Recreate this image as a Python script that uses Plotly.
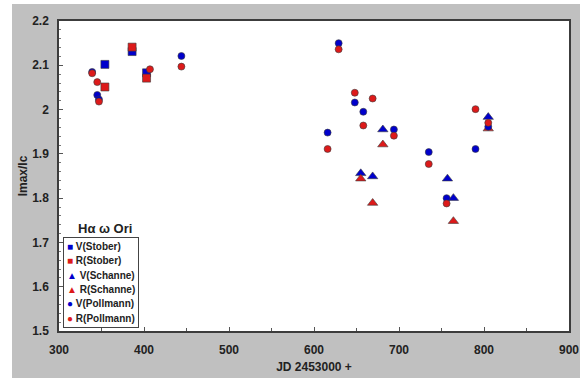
import plotly.graph_objects as go

# ---- data ----
v_stober_x = [354, 386, 403]
v_stober_y = [2.102, 2.131, 2.083]
r_stober_x = [354, 386, 403]
r_stober_y = [2.051, 2.141, 2.071]

v_schanne_x = [655, 669, 681, 757, 764, 805]
v_schanne_y = [1.856, 1.849, 1.955, 1.844, 1.800, 1.983]
r_schanne_x = [655, 669, 681, 764, 805]
r_schanne_y = [1.844, 1.789, 1.921, 1.748, 1.957]

v_pollmann_x = [339, 345, 347, 444, 616, 629, 648, 658, 694, 735, 756, 790, 805]
v_pollmann_y = [2.085, 2.033, 2.023, 2.121, 1.948, 2.150, 2.016, 1.995, 1.955, 1.904, 1.800, 1.911, 1.961]
r_pollmann_x = [339, 345, 347, 407, 444, 616, 629, 648, 658, 669, 694, 735, 756, 790, 805]
r_pollmann_y = [2.082, 2.062, 2.018, 2.091, 2.097, 1.911, 2.136, 2.038, 1.964, 2.025, 1.941, 1.877, 1.788, 2.001, 1.970]

x_tick_vals = [300, 400, 500, 600, 700, 800, 900]
y_tick_vals = [1.5, 1.6, 1.7, 1.8, 1.9, 2.0, 2.1, 2.2]

BLUE = "#0000cc"
RED = "#dd1a1a"
EDGE = "#3a3a3a"
FONT = "Liberation Sans"

series = [
    ("V(Stober)", v_stober_x, v_stober_y, "square", BLUE, 8, "■"),
    ("R(Stober)", r_stober_x, r_stober_y, "square", RED, 8, "■"),
    ("V(Schanne)", v_schanne_x, v_schanne_y, "triangle-up", BLUE, 9, "▲"),
    ("R(Schanne)", r_schanne_x, r_schanne_y, "triangle-up", RED, 9, "▲"),
    ("V(Pollmann)", v_pollmann_x, v_pollmann_y, "circle", BLUE, 7, "●"),
    ("R(Pollmann)", r_pollmann_x, r_pollmann_y, "circle", RED, 7, "●"),
]

fig = go.Figure()
legend_lines = []
for name, xs, ys, sym, col, sz, glyph in series:
    fig.add_trace(go.Scatter(
        x=xs, y=ys, mode="markers", name=name, showlegend=False,
        marker=dict(symbol=sym, color=col, size=sz, line=dict(color=EDGE, width=0.6)),
    ))
    legend_lines.append(
        f'<span style="color:{col};font-size:10px">{glyph}</span>'
        f'<span style="font-size:10px"> {name}</span>'
    )

L, R, T, B = 59, 14, 21, 47
W, H = 583, 378
pw, ph = W - L - R, H - T - B

def px_x(p):
    return (p - L) / pw

def px_y(p):
    return (H - B - p) / ph

fig.update_layout(
    width=W, height=H,
    margin=dict(l=L, r=R, t=T, b=B, pad=0, autoexpand=False),
    paper_bgcolor="white",
    plot_bgcolor="white",
    showlegend=False,
    font=dict(family=FONT, size=12, color="#222222"),
    shapes=[
        dict(type="rect", xref="paper", yref="paper", layer="below",
             x0=px_x(12), x1=px_x(580), y0=px_y(380), y1=px_y(4),
             fillcolor="#c0c0c0", line=dict(width=0)),
        dict(type="rect", xref="paper", yref="paper", layer="below",
             x0=0, x1=1, y0=0, y1=1,
             fillcolor="white", line=dict(width=0)),
    ],
    annotations=[
        dict(text="Hα ω Ori", xref="paper", yref="paper",
             x=px_x(105), y=px_y(228), xanchor="center", yanchor="middle",
             showarrow=False,
             font=dict(family=FONT, size=13, color="#222222", weight="bold")),
        dict(text="<br>".join(legend_lines), xref="paper", yref="paper",
             x=px_x(63), y=px_y(237), xanchor="left", yanchor="top",
             align="left", showarrow=False,
             bgcolor="white", bordercolor="#444444", borderwidth=1, borderpad=3,
             font=dict(family=FONT, size=11, color="#222222", weight="bold")),
    ],
)

fig.update_xaxes(
    range=[300, 900], tickvals=x_tick_vals, automargin=False,
    ticks="inside", ticklen=4, tickcolor="#555555",
    minor=dict(dtick=50, ticks="inside", ticklen=3, tickcolor="#555555"),
    showgrid=False, zeroline=False,
    showline=True, linecolor="#3c3c3c", linewidth=1.5, mirror=True,
    tickfont=dict(family=FONT, size=12, color="#222222", weight="bold"),
    ticklabelstandoff=7,
    title=dict(text="JD 2453000 +", standoff=6,
               font=dict(family=FONT, size=12, color="#222222", weight="bold")),
)
fig.update_yaxes(
    range=[1.5, 2.2], tickvals=y_tick_vals, automargin=False,
    ticks="inside", ticklen=4, tickcolor="#555555",
    minor=dict(dtick=0.02, ticks="inside", ticklen=2, tickcolor="#777777"),
    showgrid=False, zeroline=False,
    showline=True, linecolor="#3c3c3c", linewidth=1.5, mirror=True,
    tickfont=dict(family=FONT, size=12, color="#222222", weight="bold"),
    ticklabelstandoff=6,
    title=dict(text="Imax/Ic", standoff=2,
               font=dict(family=FONT, size=12, color="#222222", weight="bold")),
)

fig.write_html("out.html")
